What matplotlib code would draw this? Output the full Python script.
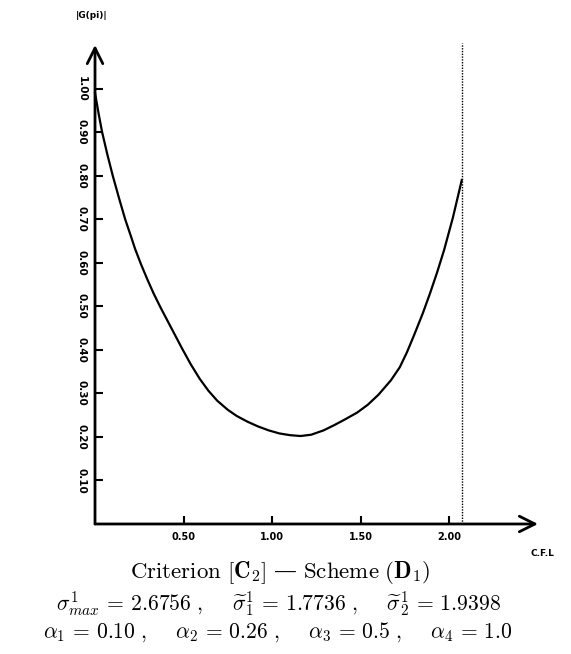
import numpy as np
import matplotlib
matplotlib.use('Agg')
import matplotlib.pyplot as plt

plt.rcParams['mathtext.fontset'] = 'cm'

# curve |G(pi)| vs CFL
cfl = [0.00, 0.02, 0.04, 0.07, 0.10, 0.135, 0.17, 0.20, 0.226, 0.26, 0.294,
       0.33, 0.37, 0.41, 0.45, 0.49, 0.54, 0.59, 0.64, 0.69, 0.75, 0.80,
       0.86, 0.92, 0.98, 1.04, 1.10, 1.16, 1.22, 1.29, 1.35, 1.41, 1.48,
       1.54, 1.60, 1.67, 1.72, 1.76, 1.80, 1.85, 1.89, 1.93, 1.97, 2.02, 2.07]
gpi = [0.99, 0.943, 0.90, 0.848, 0.80, 0.749, 0.70, 0.664, 0.632, 0.596, 0.563,
       0.530, 0.497, 0.466, 0.435, 0.404, 0.367, 0.334, 0.306, 0.283, 0.262, 0.248,
       0.235, 0.224, 0.215, 0.208, 0.204, 0.202, 0.205, 0.215, 0.227, 0.240, 0.256,
       0.274, 0.297, 0.330, 0.360, 0.394, 0.433, 0.484, 0.529, 0.577, 0.629, 0.704, 0.79]

cfl_limit = 2.07
xticks = [0.5, 1.0, 1.5, 2.0]
xtick_labels = ['0.50', '1.00', '1.50', '2.00']
yticks = [0.1, 0.2, 0.3, 0.4, 0.5, 0.6, 0.7, 0.8, 0.9, 1.0]
ytick_labels = ['0.10', '0.20', '0.30', '0.40', '0.50', '0.60', '0.70', '0.80', '0.90', '1.00']

fig = plt.figure(figsize=(5.71, 6.54), dpi=100)
ax = fig.add_axes([0.1664, 0.1988, 0.7758, 0.7324])
ax.set_xlim(0, 2.5)
ax.set_ylim(0, 1.1)
for s in ax.spines.values():
    s.set_visible(False)

ax.plot(cfl, gpi, color='black', lw=1.6, clip_on=False)
ax.plot([cfl_limit, cfl_limit], [0, 1.105], color='black', lw=1.0,
        linestyle=(0, (1, 1)), clip_on=False)

# axes with open arrow heads
ax.annotate('', xy=(2.5, 0), xytext=(0, 0),
            arrowprops=dict(arrowstyle='->', lw=2, color='black',
                            mutation_scale=28, shrinkA=0, shrinkB=0),
            annotation_clip=False)
ax.annotate('', xy=(0, 1.1), xytext=(0, 0),
            arrowprops=dict(arrowstyle='->', lw=2, color='black',
                            mutation_scale=28, shrinkA=0, shrinkB=0),
            annotation_clip=False)

ax.set_xticks(xticks)
ax.set_xticklabels(xtick_labels, fontsize=7, fontweight='bold')
ax.set_yticks(yticks)
ax.set_yticklabels(ytick_labels, fontsize=7.5, fontweight='bold', rotation=270,
                   va='center')
ax.tick_params(direction='in', length=6, width=1.5, pad=6)

fig.text(0.161, 0.977, '|G(pi)|', fontsize=6.5, fontweight='bold', ha='center', va='center')
fig.text(0.950, 0.154, 'C.F.L', fontsize=6.5, fontweight='bold', ha='center', va='center')

title = (r'$\mathrm{Criterion}\ [\mathbf{C}_\mathbf{2}]\ $' + '\u2014' +
         r'$\ \mathrm{Scheme}\ (\mathbf{D}_\mathbf{1})$')
fig.text(0.49, 0.124, title, fontsize=16.5, ha='center', va='center',
         family='DejaVu Serif')
fig.text(0.487, 0.076,
         r'$\sigma^1_{max}\,=\,2.6756\ ,\quad\ \widetilde{\sigma}^1_1\,=\,1.7736\ ,\quad\ \widetilde{\sigma}^1_2\,=\,1.9398$',
         fontsize=15.6, ha='center', va='center')
fig.text(0.487, 0.034,
         r'$\alpha_1\,=\,0.10\ ,\quad\ \alpha_2\,=\,0.26\ ,\quad\ \alpha_3\,=\,0.5\ ,\quad\ \alpha_4\,=\,1.0$',
         fontsize=15.5, ha='center', va='center')

fig.savefig('out.png', dpi=100)
